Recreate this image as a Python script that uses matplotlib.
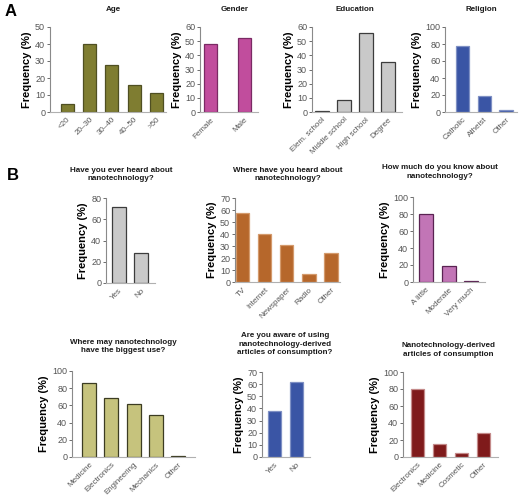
import numpy as np
import matplotlib
matplotlib.use("Agg")
import matplotlib.pyplot as plt

plt.rcParams["font.family"] = ["Liberation Sans", "DejaVu Sans"]

# ---- data ----
age_labels = ["<20", "20\u201330", "30\u201340", "40\u201350", ">50"]
age_vals = [4.5, 40, 27.5, 16, 11]

gender_labels = ["Female", "Male"]
gender_vals = [48, 52]

edu_labels = ["Elem. school", "Middle school", "High school", "Degree"]
edu_vals = [0.5, 8.5, 55.5, 35]

religion_labels = ["Catholic", "Atheist", "Other"]
religion_vals = [78, 18.5, 2.5]

heard_labels = ["Yes", "No"]
heard_vals = [72, 28]

where_labels = ["TV", "Internet", "Newspaper", "Radio", "Other"]
where_vals = [57.5, 40, 30.5, 7, 24.5]

know_labels = ["A little", "Moderate", "Very much"]
know_vals = [80, 19, 1]

use_labels = ["Medicine", "Electronics", "Engineering", "Mechanics", "Other"]
use_vals = [86, 69, 61.5, 48.5, 0.8]

aware_labels = ["Yes", "No"]
aware_vals = [38, 62]

articles_labels = ["Electronics", "Medicine", "Cosmetic", "Other"]
articles_vals = [80, 15, 5, 28]

W, H = 525, 499

# layout in pixels: axes left/right, top/bottom, first bar centre, spacing, bar width
panels = [
    dict(title="Age", lab=age_labels, val=age_vals, ymax=50, step=10,
         L=50, R=166, top=27, bot=112, c0=67, s=22.4, w=13,
         fc="#7f7d31", ec="#4f4f22", tx=113, ty=6),
    dict(title="Gender", lab=gender_labels, val=gender_vals, ymax=60, step=10,
         L=200, R=258, top=27, bot=112, c0=210.5, s=34, w=13.5,
         fc="#c14d9d", ec="#7a2a64", tx=235, ty=6),
    dict(title="Education", lab=edu_labels, val=edu_vals, ymax=60, step=10,
         L=312, R=402, top=27, bot=112, c0=322, s=22, w=14,
         fc="#c9c9c9", ec="#3c3c3c", tx=355, ty=6),
    dict(title="Religion", lab=religion_labels, val=religion_vals, ymax=100, step=20,
         L=445, R=517, top=27, bot=112, c0=462.5, s=21.75, w=13.5,
         fc="#3a55a5", ec="#7f90c4", tx=481, ty=6),
    dict(title="Have you ever heard about\nnanotechnology?", lab=heard_labels,
         val=heard_vals, ymax=80, step=20,
         L=106, R=155, top=198, bot=283, c0=119, s=22, w=14,
         fc="#c9c9c9", ec="#3c3c3c", tx=121, ty=167),
    dict(title="Where have you heard about\nnanotechnology?", lab=where_labels,
         val=where_vals, ymax=70, step=10,
         L=235, R=340, top=198, bot=282, c0=242.5, s=22.1, w=13.5,
         fc="#b6672b", ec="#d49a6c", tx=288, ty=167),
    dict(title="How much do you know about\nnanotechnology?", lab=know_labels,
         val=know_vals, ymax=100, step=20,
         L=413, R=485, top=197, bot=282, c0=426, s=22.5, w=14,
         fc="#c275b6", ec="#5a2352", tx=440, ty=164),
    dict(title="Where may nanotechnology\nhave the biggest use?", lab=use_labels,
         val=use_vals, ymax=100, step=20,
         L=72, R=195, top=371, bot=457, c0=89, s=22.25, w=14,
         fc="#c6c37d", ec="#3c3c22", tx=123, ty=339),
    dict(title="Are you aware of using\nnanotechnology-derived\narticles of consumption?",
         lab=aware_labels, val=aware_vals, ymax=70, step=10,
         L=262, R=310, top=372, bot=457, c0=274.5, s=22, w=13,
         fc="#3a55a5", ec="#7f90c4", tx=285, ty=332),
    dict(title="Nanotechnology-derived\narticles of consumption", lab=articles_labels,
         val=articles_vals, ymax=100, step=20,
         L=403, R=498, top=372, bot=457, c0=417.5, s=22, w=13.5,
         fc="#7f1a1b", ec="#c48a8a", tx=448, ty=342),
]

fig = plt.figure(figsize=(W / 100, H / 100), dpi=100)
fig.patch.set_facecolor("white")

for p in panels:
    ax = fig.add_axes([p["L"] / W, 1 - p["bot"] / H,
                       (p["R"] - p["L"]) / W, (p["bot"] - p["top"]) / H])
    x = np.arange(len(p["val"]))
    ax.bar(x, p["val"], width=p["w"] / p["s"], color=p["fc"],
           edgecolor=p["ec"], linewidth=0.9)
    ax.set_xlim((p["L"] - p["c0"]) / p["s"], (p["R"] - p["c0"]) / p["s"])
    ax.set_ylim(0, p["ymax"])
    ax.set_yticks(np.arange(0, p["ymax"] + 1, p["step"]))
    ax.set_xticks(x)
    ax.set_xticklabels(p["lab"], rotation=45, ha="right",
                       rotation_mode="anchor", fontsize=5.8, color="#555555")
    ax.tick_params(axis="y", labelsize=6.5, colors="#555555", length=2,
                   width=0.6, pad=1.5)
    ax.tick_params(axis="x", length=0, pad=3)
    for side in ("top", "right"):
        ax.spines[side].set_visible(False)
    ax.spines["left"].set_color("#8a8a8a")
    ax.spines["bottom"].set_color("#b0b0b0")
    ax.spines["left"].set_linewidth(0.8)
    ax.spines["bottom"].set_linewidth(0.8)
    ax.set_ylabel("Frequency (%)", fontsize=8, fontweight="bold", labelpad=2)
    fig.text(p["tx"] / W, 1 - p["ty"] / H, p["title"], ha="center", va="top",
             fontsize=5.8, fontweight="bold", color="#1a1a1a", linespacing=1.3)

fig.text(5 / W, 1 - 4 / H, "A", fontsize=12, fontweight="bold", va="top")
fig.text(7 / W, 1 - 168 / H, "B", fontsize=12, fontweight="bold", va="top")

fig.savefig("out.png", dpi=100)
